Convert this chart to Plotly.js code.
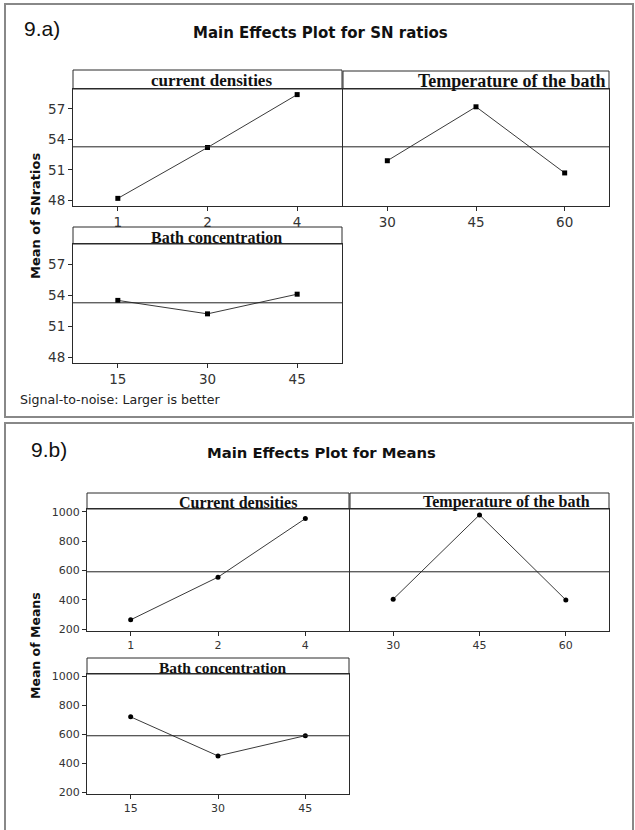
<!DOCTYPE html>
<html>
<head>
<meta charset="utf-8">
<script src="https://cdn.plot.ly/plotly-3.0.1.min.js"></script>
<style>
html,body{margin:0;padding:0;background:#fff;}
#chart{width:635px;height:830px;}
</style>
</head>
<body>
<div id="chart"></div>
<script>
// ---- Data ----
const currentLevels = ['1', '2', '4'];
const temperatureLevels = ['30', '45', '60'];
const bathLevels = ['15', '30', '45'];

// 9.a) Main effects for SN ratios
const snCurrent = [48.2, 53.2, 58.4];
const snTemperature = [51.9, 57.2, 50.7];
const snBath = [53.5, 52.2, 54.1];
const snTicks = [48, 51, 54, 57];

// 9.b) Main effects for means
const meanCurrent = [265, 555, 953];
const meanTemperature = [405, 978, 400];
const meanBath = [722, 452, 592];
const meanTicks = [200, 400, 600, 800, 1000];

const stripLabelsA = ['current densities', 'Temperature of the bath', 'Bath concentration'];
const stripLabelsB = ['Current densities', 'Temperature of the bath', 'Bath concentration'];

function avg(arrs) {
  const all = [].concat(...arrs);
  return all.reduce((a, b) => a + b, 0) / all.length;
}
const snGrand = avg([snCurrent, snTemperature, snBath]);
const meanGrand = avg([meanCurrent, meanTemperature, meanBath]);

// ---- Layout helpers (pixel -> paper) ----
const W = 635, H = 830;
const PX = p => p / W;
const PY = p => 1 - p / H;

const traces = [];
const layout = {
  width: W, height: H,
  margin: {l: 0, r: 0, t: 0, b: 0},
  paper_bgcolor: '#fff', plot_bgcolor: '#fff',
  showlegend: false,
  shapes: [], annotations: []
};

const AX = '#2a2a2a';
const SANS = 'DejaVu Sans, Verdana, sans-serif';
const SERIF = 'Liberation Serif, Times New Roman, serif';

function addPanel(i, cats, vals, grand, box, yr, yticks, showY, strip, opts) {
  const s = i === 1 ? '' : String(i);
  const xa = 'x' + s, ya = 'y' + s;
  traces.push({
    type: 'scatter', mode: 'lines+markers',
    x: cats, y: vals, xaxis: xa, yaxis: ya,
    line: {color: '#3a3a3a', width: 1},
    marker: {color: '#000', size: opts.msize, symbol: opts.msym},
    hoverinfo: 'x+y', cliponaxis: false
  });
  layout['xaxis' + s] = {
    domain: [PX(box.x0), PX(box.x1)], anchor: ya,
    type: 'category', range: [-0.5, 2.5],
    showline: true, mirror: true, linecolor: AX, linewidth: 1,
    ticks: 'outside', ticklen: 4, tickcolor: AX, tickwidth: 1,
    showgrid: false, zeroline: false,
    tickfont: {family: SANS, size: opts.tsize, color: '#333'},
    fixedrange: true
  };
  layout['yaxis' + s] = {
    domain: [PY(box.bot), PY(box.top)], anchor: xa,
    range: yr, tickmode: 'array', tickvals: yticks,
    showticklabels: showY, ticks: showY ? 'outside' : '', ticklen: 4,
    tickcolor: AX, tickwidth: 1,
    showline: true, mirror: true, linecolor: AX, linewidth: 1,
    showgrid: false, zeroline: false,
    tickfont: {family: SANS, size: opts.tsize, color: '#333'},
    fixedrange: true
  };
  // reference (grand mean) line
  layout.shapes.push({
    type: 'line', xref: xa + ' domain', yref: ya,
    x0: 0, x1: 1, y0: grand, y1: grand,
    line: {color: '#222', width: 1}
  });
  // strip box
  layout.shapes.push({
    type: 'rect', xref: 'paper', yref: 'paper',
    x0: PX(box.x0), x1: PX(box.x1), y0: PY(box.top), y1: PY(box.stripTop),
    line: {color: AX, width: 1}, fillcolor: 'rgba(0,0,0,0)'
  });
  layout.annotations.push({
    text: '<b>' + strip.text + '</b>', xref: 'paper', yref: 'paper',
    x: PX(strip.cx), y: PY((box.top + box.stripTop) / 2 + (strip.dy || 1)),
    xanchor: 'center', yanchor: 'middle', showarrow: false,
    font: {family: SERIF, size: strip.size, color: '#111'}
  });
}

// 9.a panels
const optA = {msize: 5, msym: 'square', tsize: 13.5};
const yrA = [47.45, 58.95];
addPanel(1, currentLevels, snCurrent, snGrand,
  {x0: 73, x1: 342, top: 89, bot: 206, stripTop: 70}, yrA, snTicks, true,
  {text: stripLabelsA[0], cx: 211, size: 17}, optA);
addPanel(2, temperatureLevels, snTemperature, snGrand,
  {x0: 343, x1: 609, top: 89, bot: 206, stripTop: 71}, yrA, snTicks, false,
  {text: stripLabelsA[1], cx: 512, size: 18}, optA);
addPanel(3, bathLevels, snBath, snGrand,
  {x0: 73, x1: 342, top: 244, bot: 363, stripTop: 227}, yrA, snTicks, true,
  {text: stripLabelsA[2], cx: 216, size: 16, dy: 2}, optA);

// 9.b panels
const optB = {msize: 5, msym: 'circle', tsize: 11};
const yrB = [189, 1018];
addPanel(4, currentLevels, meanCurrent, meanGrand,
  {x0: 87, x1: 349, top: 509, bot: 631, stripTop: 493}, yrB, meanTicks, true,
  {text: stripLabelsB[0], cx: 238, size: 16}, optB);
addPanel(5, temperatureLevels, meanTemperature, meanGrand,
  {x0: 350, x1: 609, top: 509, bot: 631, stripTop: 493}, yrB, meanTicks, false,
  {text: stripLabelsB[1], cx: 506, size: 16}, optB);
addPanel(6, bathLevels, meanBath, meanGrand,
  {x0: 87, x1: 349, top: 674, bot: 794, stripTop: 658}, yrB, meanTicks, true,
  {text: stripLabelsB[2], cx: 222, size: 15.5, dy: 1.5}, optB);

// outer frames
layout.shapes.push({type: 'rect', xref: 'paper', yref: 'paper',
  x0: PX(5), x1: PX(633), y0: PY(417), y1: PY(4),
  line: {color: '#888', width: 2}, fillcolor: 'rgba(0,0,0,0)', layer: 'below'});
layout.shapes.push({type: 'rect', xref: 'paper', yref: 'paper',
  x0: PX(5), x1: PX(633), y0: PY(836), y1: PY(423),
  line: {color: '#888', width: 2}, fillcolor: 'rgba(0,0,0,0)', layer: 'below'});

// texts
function txt(t, x, y, font, extra) {
  layout.annotations.push(Object.assign({
    text: t, xref: 'paper', yref: 'paper', x: PX(x), y: PY(y),
    xanchor: 'left', yanchor: 'middle', showarrow: false, font: font
  }, extra || {}));
}
txt('9.a)', 22, 28, {family: 'Liberation Sans, Arial, sans-serif', size: 21, color: '#111'});
txt('<b>Main Effects Plot for SN ratios</b>', 320, 33, {family: SANS, size: 15, color: '#111'}, {xanchor: 'center'});
txt('<b>Mean of SNratios</b>', 35, 216, {family: SANS, size: 13, color: '#111'}, {xanchor: 'center', textangle: -90});
txt('Signal-to-noise: Larger is better', 18, 399, {family: SANS, size: 12.6, color: '#222'});

txt('9.b)', 29, 449, {family: 'Liberation Sans, Arial, sans-serif', size: 21, color: '#111'});
txt('<b>Main Effects Plot for Means</b>', 321, 452, {family: SANS, size: 14.8, color: '#111'}, {xanchor: 'center'});
txt('<b>Mean of Means</b>', 35, 646, {family: SANS, size: 12.5, color: '#111'}, {xanchor: 'center', textangle: -90});

Plotly.newPlot('chart', traces, layout, {displayModeBar: false, staticPlot: true});
</script>
</body>
</html>
